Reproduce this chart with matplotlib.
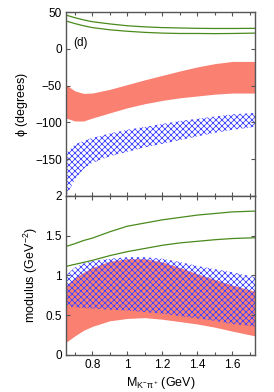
import matplotlib
matplotlib.use('Agg')
import matplotlib.pyplot as plt

DPI = 72
k = 100 / DPI  # keep sizes as they looked at 100 dpi

plt.rcParams['font.family'] = ['Liberation Sans', 'DejaVu Sans']
plt.rcParams['hatch.linewidth'] = 0.8
plt.rcParams['mathtext.fontset'] = 'custom'
plt.rcParams['mathtext.rm'] = 'Liberation Sans'
plt.rcParams['mathtext.it'] = 'Liberation Sans'

# mass grid (GeV)
m = [0.65, 0.7, 0.75, 0.8, 0.9, 1.0, 1.1, 1.2, 1.3, 1.4, 1.5, 1.6, 1.73]

# phase (degrees)
phi_green_hi = [46, 42.5, 39.5, 37, 34, 31.5, 30, 29, 28.5, 28, 27.8, 27.8, 28]
phi_green_lo = [38, 34.5, 31.5, 29, 26, 24, 22.5, 21.5, 21, 21, 20.8, 21, 21.5]
phi_red_hi = [-49, -57, -60.5, -60, -55, -48.5, -42, -36, -30, -24.5, -20, -17, -17]
phi_red_lo = [-94, -98, -98, -94, -87, -80, -74.5, -70, -66.5, -64, -61.5, -60, -60]
phi_blue_hi = [-142, -130, -125, -121, -115, -110, -106, -102, -98, -95, -92, -89, -87]
phi_blue_lo = [-200, -178, -163, -155, -146, -140, -134, -129, -124, -119, -114, -110, -106]

# modulus (GeV^-2)
mod_green_hi = [1.365, 1.40, 1.44, 1.47, 1.55, 1.62, 1.66, 1.70, 1.73, 1.76, 1.78, 1.80, 1.81]
mod_green_lo = [1.115, 1.14, 1.165, 1.19, 1.25, 1.30, 1.34, 1.38, 1.41, 1.43, 1.45, 1.465, 1.475]
mod_red_hi = [0.88, 0.97, 1.04, 1.10, 1.18, 1.21, 1.21, 1.17, 1.10, 1.02, 0.95, 0.88, 0.80]
mod_red_lo = [0.16, 0.24, 0.31, 0.36, 0.43, 0.46, 0.47, 0.45, 0.42, 0.39, 0.35, 0.30, 0.24]
mod_blue_hi = [1.0, 1.10, 1.15, 1.18, 1.21, 1.23, 1.23, 1.21, 1.17, 1.12, 1.08, 1.04, 0.98]
mod_blue_lo = [0.62, 0.60, 0.59, 0.585, 0.57, 0.56, 0.54, 0.52, 0.49, 0.46, 0.43, 0.39, 0.36]

xmajor = [0.8, 1.0, 1.2, 1.4, 1.6]
xmajor_labels = ['0.8', '1', '1.2', '1.4', '1.6']
xminor = [0.7, 0.9, 1.1, 1.3, 1.5, 1.7]

green = '#4a8a1c'
red = '#fa8072'
blue = '#4444ff'
frame = '#555555'

fig = plt.figure(figsize=(274 / DPI, 392 / DPI), dpi=DPI)
ax1 = fig.add_axes([0.241, 0.5, 0.69, 0.469])
ax2 = fig.add_axes([0.241, 0.0944, 0.69, 0.4056])

ax1.fill_between(m, phi_red_lo, phi_red_hi, color=red, lw=0)
ax1.fill_between(m, phi_blue_lo, phi_blue_hi, facecolor='none', edgecolor=blue,
                 hatch='xxxx', lw=0)
ax1.plot(m, phi_green_hi, color=green, lw=0.9 * k)
ax1.plot(m, phi_green_lo, color=green, lw=0.9 * k)
ax1.text(0.735, 8, '(d)', fontsize=8.5 * k, ha='center', va='center')
ax1.set_ylim(-200, 50)
ax1.set_yticks([-150, -100, -50, 0, 50])
ax1.set_ylabel(r'$\phi$ (degrees)', fontsize=9 * k, labelpad=4 * k)

ax2.fill_between(m, mod_red_lo, mod_red_hi, color=red, lw=0)
ax2.fill_between(m, mod_blue_lo, mod_blue_hi, facecolor='none', edgecolor=blue,
                 hatch='xxxx', lw=0)
ax2.plot(m, mod_green_hi, color=green, lw=0.9 * k)
ax2.plot(m, mod_green_lo, color=green, lw=0.9 * k)
ax2.set_ylim(0, 2)
ax2.set_yticks([0, 0.5, 1, 1.5, 2])
ax2.set_yticklabels(['0', '0.5', '1', '1.5', '2'])
ax2.set_ylabel(r'modulus (GeV$^{-2}$)', fontsize=9 * k, labelpad=4 * k)
ax2.set_xlabel(r'M$_{K^{-}\pi^{+}}$ (GeV)', fontsize=9 * k, labelpad=3 * k)

for ax in (ax1, ax2):
    ax.set_xlim(0.65, 1.73)
    ax.set_xticks(xmajor)
    ax.set_xticks(xminor, minor=True)
    ax.tick_params(which='both', direction='in', top=True, right=True,
                   color=frame, labelsize=8.5 * k, pad=3 * k)
    ax.tick_params(which='major', length=3 * k, width=0.8 * k)
    ax.tick_params(which='minor', length=2 * k, width=0.8 * k)
    for s in ax.spines.values():
        s.set_color(frame)
        s.set_linewidth(1.0 * k)

ax1.tick_params(labelbottom=False)
ax2.set_xticklabels(xmajor_labels)

fig.savefig('out.png', dpi=DPI)
